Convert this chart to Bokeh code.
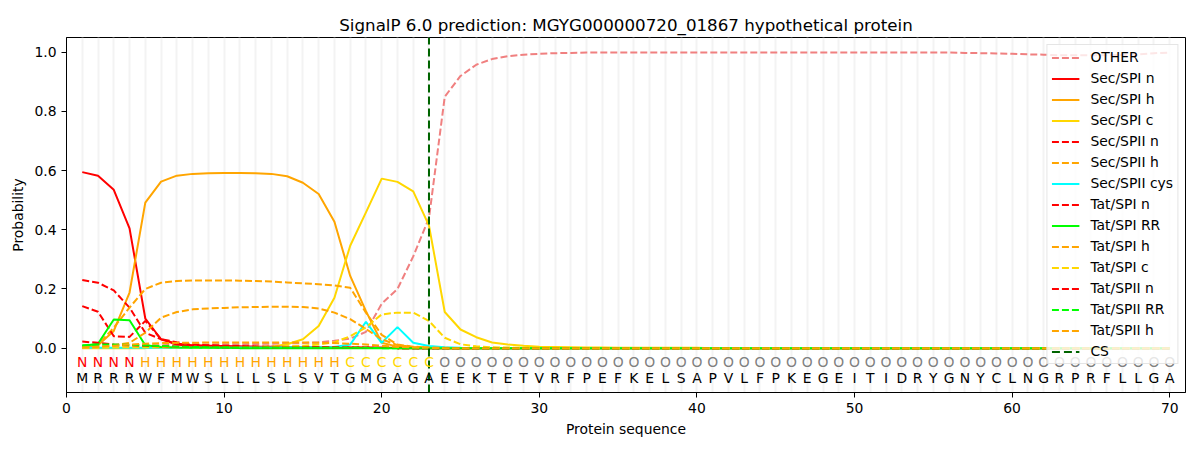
from bokeh.plotting import figure
from bokeh.models import Range1d, FixedTicker, PrintfTickFormatter, ColumnDataSource
from bokeh.embed import file_html
from bokeh.resources import INLINE
from bokeh.core.properties import value

positions = list(range(1, 71))
sequence = list("MRRRWFMWSLLLSLSVTGMGAGAEEKTETVRFPEFKELSAPVLFPKEGEITIDRYGNYCLNGRPRFLLGA")
regions = list("NNNNHHHHHHHHHHHHHCCCCCC"
               "OOOOOOOOOOOOOOOOOOOOOOOOOOOOOOOOOOOOOOOOOOOOOOO")
cs_position = 23

other = [0.005, 0.005, 0.006, 0.008, 0.010, 0.010, 0.011, 0.012, 0.012, 0.013,
         0.013, 0.014, 0.015, 0.016, 0.017, 0.020, 0.025, 0.032, 0.055, 0.150,
         0.200, 0.310, 0.440, 0.850, 0.920, 0.958, 0.977, 0.987, 0.992, 0.995,
         0.997, 0.998, 0.999, 0.999, 0.999, 0.999, 0.999, 0.999, 0.999, 0.999,
         0.999, 0.999, 0.999, 0.999, 0.999, 0.999, 0.999, 0.999, 0.999, 0.999,
         0.999, 0.999, 0.999, 0.999, 0.999, 0.999, 0.998, 0.997, 0.996, 0.995,
         0.993, 0.992, 0.990, 0.990, 0.990, 0.990, 0.991, 0.993, 0.997, 0.999]
sec_spi_n = [0.595, 0.583, 0.535, 0.405, 0.100, 0.030, 0.012, 0.006, 0.004, 0.003,
             0.003, 0.002, 0.002, 0.002, 0.002, 0.002, 0.001, 0.001, 0.001, 0.001,
             0.0, 0.0, 0.0, 0.0, 0.0, 0.0, 0.0, 0.0, 0.0, 0.0,
             0.0, 0.0, 0.0, 0.0, 0.0, 0.0, 0.0, 0.0, 0.0, 0.0,
             0.0, 0.0, 0.0, 0.0, 0.0, 0.0, 0.0, 0.0, 0.0, 0.0,
             0.0, 0.0, 0.0, 0.0, 0.0, 0.0, 0.0, 0.0, 0.0, 0.0,
             0.0, 0.0, 0.0, 0.0, 0.0, 0.0, 0.0, 0.0, 0.0, 0.0]
sec_spi_h = [0.002, 0.010, 0.058, 0.188, 0.492, 0.563, 0.583, 0.589, 0.591, 0.592,
             0.592, 0.591, 0.589, 0.581, 0.559, 0.521, 0.427, 0.244, 0.125, 0.018,
             0.005, 0.002, 0.001, 0.0, 0.0, 0.0, 0.0, 0.0, 0.0, 0.0,
             0.0, 0.0, 0.0, 0.0, 0.0, 0.0, 0.0, 0.0, 0.0, 0.0,
             0.0, 0.0, 0.0, 0.0, 0.0, 0.0, 0.0, 0.0, 0.0, 0.0,
             0.0, 0.0, 0.0, 0.0, 0.0, 0.0, 0.0, 0.0, 0.0, 0.0,
             0.0, 0.0, 0.0, 0.0, 0.0, 0.0, 0.0, 0.0, 0.0, 0.0]
sec_spi_c = [0.0, 0.0, 0.0, 0.0, 0.0, 0.001, 0.001, 0.001, 0.001, 0.002,
             0.002, 0.003, 0.005, 0.013, 0.030, 0.075, 0.170, 0.346, 0.459, 0.573,
             0.562, 0.530, 0.414, 0.122, 0.063, 0.037, 0.019, 0.012, 0.008, 0.005,
             0.004, 0.003, 0.002, 0.002, 0.001, 0.001, 0.001, 0.001, 0.001, 0.001,
             0.0, 0.0, 0.0, 0.0, 0.0, 0.0, 0.0, 0.0, 0.0, 0.0,
             0.0, 0.0, 0.0, 0.0, 0.0, 0.0, 0.0, 0.0, 0.0, 0.0,
             0.0, 0.0, 0.0, 0.0, 0.0, 0.0, 0.0, 0.0, 0.0, 0.0]
sec_spii_n = [0.230, 0.221, 0.195, 0.137, 0.052, 0.030, 0.015, 0.010, 0.008, 0.007,
              0.006, 0.005, 0.005, 0.004, 0.004, 0.003, 0.003, 0.002, 0.002, 0.001,
              0.001, 0.0, 0.0, 0.0, 0.0, 0.0, 0.0, 0.0, 0.0, 0.0,
              0.0, 0.0, 0.0, 0.0, 0.0, 0.0, 0.0, 0.0, 0.0, 0.0,
              0.0, 0.0, 0.0, 0.0, 0.0, 0.0, 0.0, 0.0, 0.0, 0.0,
              0.0, 0.0, 0.0, 0.0, 0.0, 0.0, 0.0, 0.0, 0.0, 0.0,
              0.0, 0.0, 0.0, 0.0, 0.0, 0.0, 0.0, 0.0, 0.0, 0.0]
sec_spii_h = [0.003, 0.012, 0.069, 0.137, 0.200, 0.221, 0.227, 0.229, 0.229, 0.229,
              0.228, 0.227, 0.225, 0.222, 0.219, 0.216, 0.212, 0.204, 0.120, 0.045,
              0.012, 0.005, 0.002, 0.001, 0.0, 0.0, 0.0, 0.0, 0.0, 0.0,
              0.0, 0.0, 0.0, 0.0, 0.0, 0.0, 0.0, 0.0, 0.0, 0.0,
              0.0, 0.0, 0.0, 0.0, 0.0, 0.0, 0.0, 0.0, 0.0, 0.0,
              0.0, 0.0, 0.0, 0.0, 0.0, 0.0, 0.0, 0.0, 0.0, 0.0,
              0.0, 0.0, 0.0, 0.0, 0.0, 0.0, 0.0, 0.0, 0.0, 0.0]
sec_spii_cys = [0.001, 0.001, 0.001, 0.001, 0.001, 0.001, 0.001, 0.001, 0.001, 0.001,
                0.002, 0.002, 0.002, 0.003, 0.003, 0.003, 0.004, 0.012, 0.089, 0.018,
                0.071, 0.018, 0.007, 0.003, 0.001, 0.0, 0.0, 0.0, 0.0, 0.0,
                0.0, 0.0, 0.0, 0.0, 0.0, 0.0, 0.0, 0.0, 0.0, 0.0,
                0.0, 0.0, 0.0, 0.0, 0.0, 0.0, 0.0, 0.0, 0.0, 0.0,
                0.0, 0.0, 0.0, 0.0, 0.0, 0.0, 0.0, 0.0, 0.0, 0.0,
                0.0, 0.0, 0.0, 0.0, 0.0, 0.0, 0.0, 0.0, 0.0, 0.0]
tat_spi_n = [0.142, 0.123, 0.040, 0.038, 0.092, 0.030, 0.020, 0.012, 0.010, 0.008,
             0.007, 0.006, 0.005, 0.005, 0.004, 0.004, 0.003, 0.002, 0.002, 0.001,
             0.0, 0.0, 0.0, 0.0, 0.0, 0.0, 0.0, 0.0, 0.0, 0.0,
             0.0, 0.0, 0.0, 0.0, 0.0, 0.0, 0.0, 0.0, 0.0, 0.0,
             0.0, 0.0, 0.0, 0.0, 0.0, 0.0, 0.0, 0.0, 0.0, 0.0,
             0.0, 0.0, 0.0, 0.0, 0.0, 0.0, 0.0, 0.0, 0.0, 0.0,
             0.0, 0.0, 0.0, 0.0, 0.0, 0.0, 0.0, 0.0, 0.0, 0.0]
tat_spi_rr = [0.007, 0.015, 0.097, 0.094, 0.010, 0.004, 0.002, 0.001, 0.001, 0.001,
              0.0, 0.0, 0.0, 0.0, 0.0, 0.0, 0.0, 0.0, 0.0, 0.0,
              0.0, 0.0, 0.0, 0.0, 0.0, 0.0, 0.0, 0.0, 0.0, 0.0,
              0.0, 0.0, 0.0, 0.0, 0.0, 0.0, 0.0, 0.0, 0.0, 0.0,
              0.0, 0.0, 0.0, 0.0, 0.0, 0.0, 0.0, 0.0, 0.0, 0.0,
              0.0, 0.0, 0.0, 0.0, 0.0, 0.0, 0.0, 0.0, 0.0, 0.0,
              0.0, 0.0, 0.0, 0.0, 0.0, 0.0, 0.0, 0.0, 0.0, 0.0]
tat_spi_h = [0.001, 0.003, 0.010, 0.018, 0.052, 0.103, 0.122, 0.131, 0.134, 0.136,
             0.138, 0.139, 0.140, 0.140, 0.139, 0.134, 0.120, 0.098, 0.065, 0.030,
             0.010, 0.004, 0.002, 0.001, 0.0, 0.0, 0.0, 0.0, 0.0, 0.0,
             0.0, 0.0, 0.0, 0.0, 0.0, 0.0, 0.0, 0.0, 0.0, 0.0,
             0.0, 0.0, 0.0, 0.0, 0.0, 0.0, 0.0, 0.0, 0.0, 0.0,
             0.0, 0.0, 0.0, 0.0, 0.0, 0.0, 0.0, 0.0, 0.0, 0.0,
             0.0, 0.0, 0.0, 0.0, 0.0, 0.0, 0.0, 0.0, 0.0, 0.0]
tat_spi_c = [0.001, 0.001, 0.002, 0.003, 0.003, 0.003, 0.003, 0.003, 0.003, 0.004,
             0.004, 0.004, 0.005, 0.006, 0.008, 0.012, 0.020, 0.040, 0.070, 0.114,
             0.120, 0.120, 0.092, 0.035, 0.013, 0.006, 0.003, 0.002, 0.001, 0.0,
             0.0, 0.0, 0.0, 0.0, 0.0, 0.0, 0.0, 0.0, 0.0, 0.0,
             0.0, 0.0, 0.0, 0.0, 0.0, 0.0, 0.0, 0.0, 0.0, 0.0,
             0.0, 0.0, 0.0, 0.0, 0.0, 0.0, 0.0, 0.0, 0.0, 0.0,
             0.0, 0.0, 0.0, 0.0, 0.0, 0.0, 0.0, 0.0, 0.0, 0.0]
tat_spii_n = [0.022, 0.018, 0.012, 0.010, 0.008, 0.006, 0.005, 0.004, 0.004, 0.003,
              0.003, 0.003, 0.002, 0.002, 0.002, 0.002, 0.001, 0.001, 0.001, 0.001,
              0.0, 0.0, 0.0, 0.0, 0.0, 0.0, 0.0, 0.0, 0.0, 0.0,
              0.0, 0.0, 0.0, 0.0, 0.0, 0.0, 0.0, 0.0, 0.0, 0.0,
              0.0, 0.0, 0.0, 0.0, 0.0, 0.0, 0.0, 0.0, 0.0, 0.0,
              0.0, 0.0, 0.0, 0.0, 0.0, 0.0, 0.0, 0.0, 0.0, 0.0,
              0.0, 0.0, 0.0, 0.0, 0.0, 0.0, 0.0, 0.0, 0.0, 0.0]
tat_spii_rr = [0.010, 0.012, 0.012, 0.011, 0.009, 0.007, 0.005, 0.004, 0.003, 0.003,
               0.002, 0.002, 0.002, 0.001, 0.001, 0.001, 0.001, 0.001, 0.001, 0.0,
               0.0, 0.0, 0.0, 0.0, 0.0, 0.0, 0.0, 0.0, 0.0, 0.0,
               0.0, 0.0, 0.0, 0.0, 0.0, 0.0, 0.0, 0.0, 0.0, 0.0,
               0.0, 0.0, 0.0, 0.0, 0.0, 0.0, 0.0, 0.0, 0.0, 0.0,
               0.0, 0.0, 0.0, 0.0, 0.0, 0.0, 0.0, 0.0, 0.0, 0.0,
               0.0, 0.0, 0.0, 0.0, 0.0, 0.0, 0.0, 0.0, 0.0, 0.0]
tat_spii_h = [0.002, 0.004, 0.008, 0.012, 0.015, 0.017, 0.018, 0.018, 0.019, 0.019,
              0.019, 0.019, 0.019, 0.019, 0.019, 0.018, 0.017, 0.015, 0.012, 0.008,
              0.004, 0.002, 0.001, 0.0, 0.0, 0.0, 0.0, 0.0, 0.0, 0.0,
              0.0, 0.0, 0.0, 0.0, 0.0, 0.0, 0.0, 0.0, 0.0, 0.0,
              0.0, 0.0, 0.0, 0.0, 0.0, 0.0, 0.0, 0.0, 0.0, 0.0,
              0.0, 0.0, 0.0, 0.0, 0.0, 0.0, 0.0, 0.0, 0.0, 0.0,
              0.0, 0.0, 0.0, 0.0, 0.0, 0.0, 0.0, 0.0, 0.0, 0.0]

series = [
    ("OTHER", other, "#f08080", "7 3"),
    ("Sec/SPI n", sec_spi_n, "#ff0000", None),
    ("Sec/SPI h", sec_spi_h, "#ffa500", None),
    ("Sec/SPI c", sec_spi_c, "#ffd700", None),
    ("Sec/SPII n", sec_spii_n, "#ff0000", "7 3"),
    ("Sec/SPII h", sec_spii_h, "#ffa500", "7 3"),
    ("Sec/SPII cys", sec_spii_cys, "#00ffff", None),
    ("Tat/SPI n", tat_spi_n, "#ff0000", "7 3"),
    ("Tat/SPI RR", tat_spi_rr, "#00ff00", None),
    ("Tat/SPI h", tat_spi_h, "#ffa500", "7 3"),
    ("Tat/SPI c", tat_spi_c, "#ffd700", "7 3"),
    ("Tat/SPII n", tat_spii_n, "#ff0000", "7 3"),
    ("Tat/SPII RR", tat_spii_rr, "#00ff00", "7 3"),
    ("Tat/SPII h", tat_spii_h, "#ffa500", "7 3"),
]
region_colors = {"N": "#ff0000", "H": "#ffa500", "C": "#ffd700", "O": "#808080"}

FONT = "DejaVu Sans"
FS = "13.9px"
y_lo, y_hi = -0.15, 1.05

p = figure(width=1199, height=449, output_backend="svg", toolbar_location=None,
           x_range=Range1d(0, 71), y_range=Range1d(y_lo, y_hi),
           title="SignalP 6.0 prediction: MGYG000000720_01867 hypothetical protein",
           min_border_left=66, min_border_right=14, min_border_top=37, min_border_bottom=57)

p.title.align = "center"
p.title.text_font = FONT
p.title.text_font_size = "16.7px"
p.title.text_font_style = "normal"
p.title.text_color = "black"
p.title.standoff = 6

p.outline_line_color = "black"
p.outline_line_width = 1
p.outline_line_alpha = 1

p.ygrid.visible = False
p.xgrid.ticker = FixedTicker(ticks=positions)
p.xgrid.grid_line_color = "#f3f3f3"
p.xgrid.grid_line_width = 2

for ax in (p.xaxis[0], p.yaxis[0]):
    ax.major_label_text_font = FONT
    ax.major_label_text_font_size = FS
    ax.major_label_text_color = "black"
    ax.axis_label_text_font = FONT
    ax.axis_label_text_font_size = FS
    ax.axis_label_text_font_style = "normal"
    ax.axis_label_text_color = "black"
    ax.major_tick_in = 0
    ax.major_tick_out = 5
    ax.minor_tick_in = 0
    ax.minor_tick_out = 0
    ax.axis_line_color = "black"
    ax.major_tick_line_color = "black"

p.xaxis.ticker = FixedTicker(ticks=[0, 10, 20, 30, 40, 50, 60, 70])
p.yaxis.ticker = FixedTicker(ticks=[0.0, 0.2, 0.4, 0.6, 0.8, 1.0])
p.yaxis.formatter = PrintfTickFormatter(format="%.1f")
p.xaxis.axis_label = "Protein sequence"
p.yaxis.axis_label = "Probability"

for name, vals, color, dash in series:
    kw = dict(line_color=color, line_width=2, legend_label=name)
    if dash:
        kw["line_dash"] = dash
    p.line(positions, vals, **kw)

p.line([cs_position, cs_position], [y_lo, y_hi], line_color="#006400", line_width=2,
       line_dash="8 4", legend_label="CS")

lab_src = ColumnDataSource(dict(x=positions, y=[-0.046] * len(positions), t=regions,
                                c=[region_colors[r] for r in regions]))
p.text(x="x", y="y", text="t", text_color="c", source=lab_src, text_align="center",
       text_baseline="middle", text_font=value(FONT), text_font_size=FS)
seq_src = ColumnDataSource(dict(x=positions, y=[-0.1] * len(positions), t=sequence))
p.text(x="x", y="y", text="t", text_color="black", source=seq_src, text_align="center",
       text_baseline="middle", text_font=value(FONT), text_font_size=FS)

lg = p.legend[0]
lg.location = "top_right"
lg.margin = 7
lg.padding = 4
lg.spacing = 5
lg.glyph_height = 15
lg.label_height = 15
lg.glyph_width = 28
lg.label_standoff = 11
lg.label_text_font = FONT
lg.label_text_font_size = FS
lg.label_text_color = "black"
lg.background_fill_alpha = 0.8
lg.border_line_color = "#cccccc"
lg.border_line_width = 1

open("out.html", "w").write(file_html(p, INLINE))
